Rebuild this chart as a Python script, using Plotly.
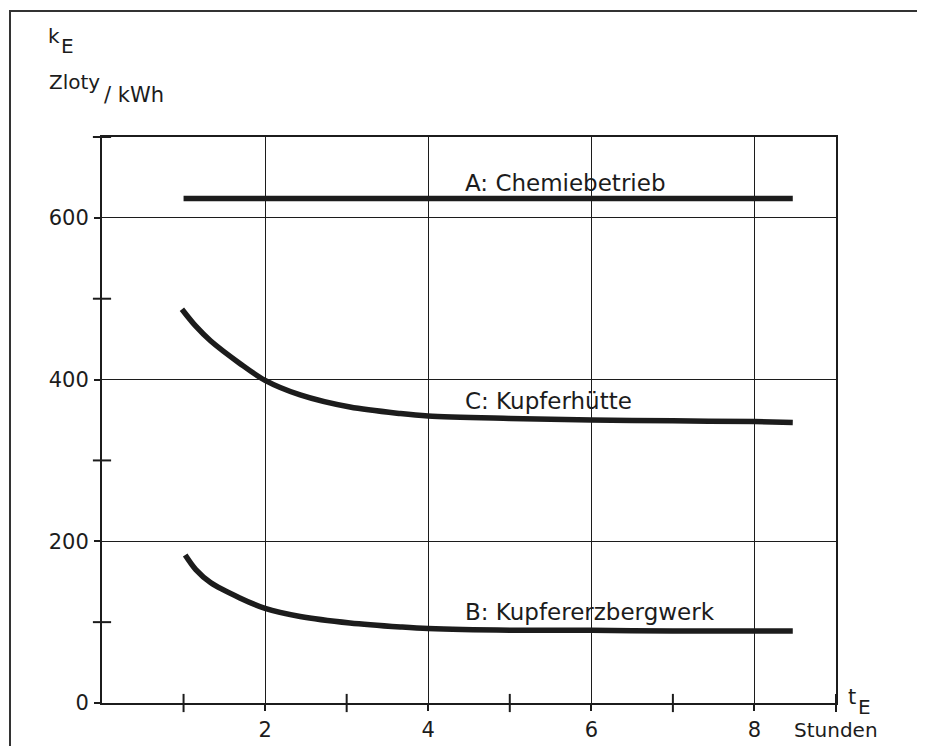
import plotly.graph_objects as go

# ---- data ----
x_a = [1.0, 8.47]
y_a = [624, 624]

x_c = [0.98, 1.15, 1.33, 1.69, 2.0, 2.43, 3.04, 3.66, 4.0, 5.0, 6.0, 7.0, 8.0, 8.47]
y_c = [487, 466, 448, 420, 399, 381, 366, 358, 355, 352, 350, 349, 348, 347]

x_b = [1.02, 1.15, 1.33, 1.69, 2.0, 2.43, 3.04, 3.66, 4.0, 5.0, 6.0, 7.0, 8.0, 8.47]
y_b = [183, 165, 149, 130, 117, 107, 99, 94, 92, 90, 90, 89, 89, 89]

x_major = [2, 4, 6, 8]
x_minor = [1, 3, 5, 7, 9]
y_major = [0, 200, 400, 600]
y_minor = [100, 300, 500, 700]

labels = ["A: Chemiebetrieb", "C: Kupferhütte", "B: Kupfererzbergwerk"]
label_y = [643, 374, 112]
label_x = 4.43

INK = "#1c1c1c"
FONT = "DejaVu Sans"

fig = go.Figure()
line_style = dict(color=INK, width=5.5, shape="spline", smoothing=0.9)
fig.add_trace(go.Scatter(x=x_a, y=y_a, mode="lines", line=dict(color=INK, width=5.5)))
fig.add_trace(go.Scatter(x=x_c, y=y_c, mode="lines", line=line_style))
fig.add_trace(go.Scatter(x=x_b, y=y_b, mode="lines", line=line_style))

# minor ticks crossing the axes (drawn as tick-shaped markers on the axes)
fig.add_trace(go.Scatter(x=x_minor, y=[0] * len(x_minor), mode="markers", cliponaxis=False,
                         marker=dict(symbol="line-ns", size=13, line=dict(color=INK, width=2)),
                         hoverinfo="skip"))
fig.add_trace(go.Scatter(x=[0] * len(y_minor), y=y_minor, mode="markers", cliponaxis=False,
                         marker=dict(symbol="line-ew", size=13, line=dict(color=INK, width=2)),
                         hoverinfo="skip"))

for t, yy in zip(labels, label_y):
    fig.add_annotation(x=label_x, y=yy, text=t, showarrow=False, xanchor="left",
                       yanchor="middle", font=dict(family=FONT, size=23, color=INK))

# page has an 8px body margin: figure coords = page coords - 8
OFF = 8
W, H = 925, 746
L, T = 102 - OFF, 137 - OFF
R = W - (836 - OFF)
B = H - (703 - OFF)
pw, ph = W - L - R, H - T - B

def px(xp):
    return (xp - OFF - L) / pw

def py(yp):
    return (H - B - (yp - OFF)) / ph

def f(size):
    return dict(family=FONT, size=size, color=INK)

fig.add_annotation(x=px(46), y=py(36), xref="paper", yref="paper", text="k", showarrow=False,
                   xanchor="left", yanchor="middle", font=f(20))
fig.add_annotation(x=px(59), y=py(46), xref="paper", yref="paper", text="E", showarrow=False,
                   xanchor="left", yanchor="middle", font=f(20))
fig.add_annotation(x=px(47), y=py(82), xref="paper", yref="paper", text="Zloty", showarrow=False,
                   xanchor="left", yanchor="middle", font=f(20))
fig.add_annotation(x=px(102), y=py(95), xref="paper", yref="paper", text="/ kWh", showarrow=False,
                   xanchor="left", yanchor="middle", font=f(21))
fig.add_annotation(x=px(846), y=py(697), xref="paper", yref="paper", text="t", showarrow=False,
                   xanchor="left", yanchor="middle", font=f(21))
fig.add_annotation(x=px(856), y=py(707), xref="paper", yref="paper", text="E", showarrow=False,
                   xanchor="left", yanchor="middle", font=f(20))
fig.add_annotation(x=px(792), y=py(730), xref="paper", yref="paper", text="Stunden", showarrow=False,
                   xanchor="left", yanchor="middle", font=f(20))

# outer frame of the figure
fig.add_shape(type="rect", xref="paper", yref="paper", x0=px(10), x1=px(918), y0=py(780), y1=py(11),
              line=dict(color="#333333", width=2), layer="below")

axis_common = dict(showline=True, linecolor=INK, linewidth=2, mirror=True,
                   gridcolor=INK, gridwidth=1.3, zeroline=False, automargin=False,
                   ticks="outside", ticklen=6, tickwidth=2, tickcolor=INK,
                   tickfont=f(21))

fig.update_layout(
    template="none",
    width=W, height=H,
    margin=dict(l=L, r=R, t=T, b=B),
    paper_bgcolor="white", plot_bgcolor="white",
    showlegend=False,
    xaxis=dict(range=[0, 9], tickvals=x_major, ticklabelstandoff=1, **axis_common),
    yaxis=dict(range=[0, 700], tickvals=y_major, ticklabelstandoff=1, **axis_common),
)

fig.write_html("out.html")
